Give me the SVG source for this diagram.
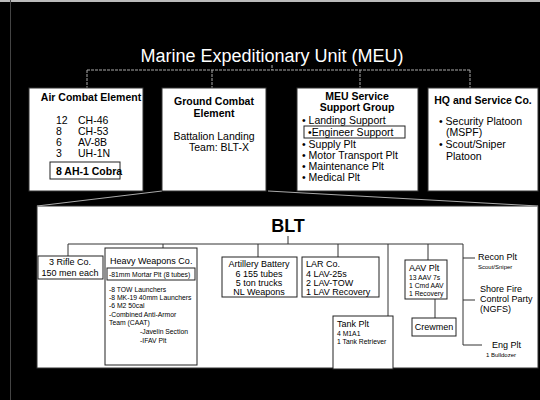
<svg xmlns="http://www.w3.org/2000/svg" width="540" height="400" viewBox="0 0 540 400">
<style>
text{font-family:"Liberation Sans",Arial,sans-serif;fill:#000}
.t{fill:#fff;font-size:18px}
.b{font-weight:bold;font-size:10.5px}
.r{font-size:10.5px}
.m{font-size:9px}
.s{font-size:6.8px}
.xs{font-size:6px}
.c{text-anchor:middle}
.box{fill:#fff;stroke:#333;stroke-width:1}
.ibox{fill:#fff;stroke:#222;stroke-width:1}
.top{stroke:#aaa;stroke-width:1;fill:none;stroke-dasharray:3 1}
.in{stroke:#333;stroke-width:1;fill:none}
</style>
<rect width="540" height="400" fill="#000"/>
<line x1="0" y1="1" x2="540" y2="1" stroke="#bbb" stroke-width="2"/>
<line x1="10.5" y1="0" x2="10.5" y2="400" stroke="#444" stroke-width="1"/>
<text class="t c" x="272" y="62">Marine Expeditionary Unit (MEU)</text>
<g id="blt">
<rect class="box" x="37" y="206" width="501" height="162"/>
<text x="288" y="232" class="c" font-size="18" font-weight="bold">BLT</text>
</g>
<g id="connectors">
<path class="top" d="M272,65V70M87,70H470M87,70V88M212,70V88M360,70V88M470,70V88"/>
<path d="M162,191L37,206M268,191L538,206" stroke="#aaa" stroke-width="1" fill="none"/>
<path class="in" d="M288,236V244M68,244H463M68,244V256M163,244V248M258,244V257M338,244V257M388,244V316M428,244V260M463,244V345H482M463,258H475M463,300H475M435,299V318"/>
</g>
<g id="ace">
<rect class="box" x="29" y="88" width="114" height="103"/>
<text class="b c" x="91" y="101">Air Combat Element</text>
<text class="r" x="56" y="124">12</text><text class="r" x="78" y="124">CH-46</text>
<text class="r" x="56" y="135">8</text><text class="r" x="78" y="135">CH-53</text>
<text class="r" x="56" y="146">6</text><text class="r" x="78" y="146">AV-8B</text>
<text class="r" x="56" y="157">3</text><text class="r" x="78" y="157">UH-1N</text>
<rect class="ibox" x="50" y="162" width="70" height="17"/>
<text class="b" x="56" y="175">8  AH-1 Cobra</text>
</g>
<g id="gce">
<rect class="box" x="162" y="88" width="104" height="103"/>
<text class="b c" x="214" y="105">Ground Combat</text>
<text class="b c" x="214" y="117">Element</text>
<text class="r c" x="214" y="140">Battalion Landing</text>
<text class="r" x="189" y="151">Team: BLT-X</text>
</g>
<g id="mssg">
<rect class="box" x="297" y="88" width="121" height="103"/>
<text class="b c" x="357" y="100">MEU Service</text>
<text class="b c" x="357" y="111">Support Group</text>
<text class="r" x="302" y="124">• Landing Support</text>
<rect class="ibox" x="304" y="126" width="101" height="12"/>
<text class="r" x="308" y="136">•Engineer Support</text>
<text class="r" x="302" y="148">• Supply Plt</text>
<text class="r" x="302" y="159">• Motor Transport Plt</text>
<text class="r" x="302" y="170">• Maintenance Plt</text>
<text class="r" x="302" y="181">• Medical Plt</text>
</g>
<g id="hq">
<rect class="box" x="428" y="88" width="110" height="103"/>
<text class="b c" x="483" y="104">HQ and Service Co.</text>
<text class="r" x="439" y="125">• Security Platoon</text>
<text class="r" x="446" y="136">(MSPF)</text>
<text class="r" x="439" y="148">• Scout/Sniper</text>
<text class="r" x="446" y="160">Platoon</text>
</g>
<g id="rifle">
<rect class="ibox" x="38" y="256" width="65" height="23"/>
<text class="m c" x="70" y="265">3 Rifle Co.</text>
<text class="m c" x="70" y="276">150 men each</text>
</g>
<g id="heavy">
<rect class="ibox" x="105" y="248" width="92" height="117"/>
<text class="m" x="110" y="264">Heavy Weapons Co.</text>
<rect class="ibox" x="107" y="268" width="88" height="12"/>
<text class="s" x="109" y="277">-81mm Mortar Plt (8 tubes)</text>
<text class="s" x="109" y="292">-8 TOW Launchers</text>
<text class="s" x="109" y="300">-8 MK-19 40mm Launchers</text>
<text class="s" x="109" y="308">-6 M2 50cal</text>
<text class="s" x="109" y="317">-Combined Anti-Armor</text>
<text class="s" x="109" y="325">Team (CAAT)</text>
<text class="s" x="140" y="334">-Javelin Section</text>
<text class="s" x="140" y="343">-IFAV Plt</text>
</g>
<g id="artillery">
<rect class="ibox" x="222" y="257" width="75" height="40"/>
<text class="m c" x="259" y="267">Artillery Battery</text>
<text class="m c" x="259" y="277">6 155 tubes</text>
<text class="m c" x="259" y="286">5 ton trucks</text>
<text class="m c" x="259" y="295">NL Weapons</text>
</g>
<g id="lar">
<rect class="ibox" x="302" y="257" width="77" height="40"/>
<text class="m" x="306" y="267">LAR Co.</text>
<text class="m" x="306" y="277">4 LAV-25s</text>
<text class="m" x="306" y="286">2 LAV-TOW</text>
<text class="m" x="306" y="295">1 LAV Recovery</text>
</g>
<g id="aav">
<rect class="ibox" x="405" y="260" width="42" height="39"/>
<text class="m" x="409" y="271">AAV Plt</text>
<text class="s" x="409" y="280">13 AAV 7s</text>
<text class="s" x="409" y="288">1 Cmd AAV</text>
<text class="s" x="409" y="296">1 Recovery</text>
</g>
<g id="crewmen">
<rect class="ibox" x="412" y="318" width="44" height="18"/>
<text class="m c" x="434" y="330">Crewmen</text>
</g>
<g id="tank">
<rect class="ibox" x="333" y="316" width="60" height="53"/>
<text class="m" x="337" y="327">Tank Plt</text>
<text class="s" x="337" y="336">4 M1A1</text>
<text class="s" x="337" y="344">1 Tank Retriever</text>
</g>
<g id="recon">
<text class="m" x="478" y="260">Recon Plt</text>
<text class="xs" x="478" y="269">Scout/Sniper</text>
</g>
<g id="shore">
<text class="m" x="480" y="292">Shore Fire</text>
<text class="m" x="480" y="302">Control Party</text>
<text class="m" x="480" y="312">(NGFS)</text>
</g>
<g id="eng">
<text class="m" x="492" y="348">Eng Plt</text>
<text class="xs" x="486" y="357">1 Bulldozer</text>
</g>
</svg>
